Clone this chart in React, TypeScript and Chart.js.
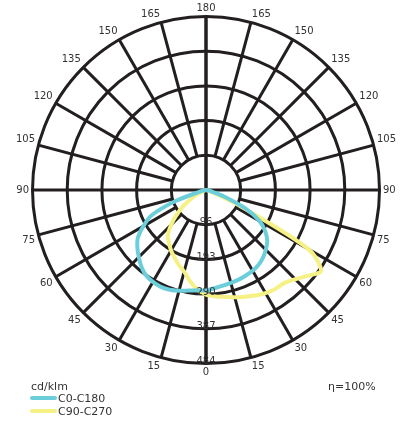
import React, { useEffect, useRef } from "react";
import { Chart, registerables } from "chart.js";

Chart.register(...registerables);

// gamma angles (degrees from nadir)
const angles = [0, 5, 10, 15, 20, 25, 30, 35, 40, 45, 50, 55, 60, 65, 70, 75, 80, 85, 90];
// C0-C180 plane (cd/klm)
const c0 = [280, 275, 271, 268, 266, 263, 260, 255, 247, 236, 223, 202, 172, 120, 55, 15, 4, 1, 0];
const c180 = [280, 281, 285, 291, 296, 298, 296, 291, 280, 265, 250, 232, 202, 168, 92, 18, 5, 1, 0];
// C90-C270 plane (cd/klm)
const c90 = [292, 298, 303, 310, 317, 325, 332, 337, 339, 352, 372, 392, 330, 100, 22, 6, 2, 0, 0];
const c270 = [292, 278, 258, 236, 222, 208, 195, 180, 166, 138, 106, 75, 45, 22, 10, 4, 1, 0, 0];

const ringValues = [96.8, 193.6, 290.4, 387.2, 484];
const ringLabels = ["96", "193", "290", "387", "484"];
const angleLabels = [0, 15, 30, 45, 60, 75, 90, 105, 120, 135, 150, 165, 180];
const maxValue = 484;

const seriesNames = ["C0-C180", "C90-C270"];
const seriesColors = ["#6ccedb", "#f6f185"];
const unitLabel = "cd/klm";
const efficiencyLabel = "η=100%";

const GRID = "#231f20";
const TEXT = "#333333";
const FONT = "DejaVu Sans, Verdana, sans-serif";

function toPoints(left: number[], right: number[]) {
  const pts: { x: number; y: number }[] = [];
  for (let i = angles.length - 1; i >= 0; i--) {
    const t = (angles[i] * Math.PI) / 180;
    pts.push({ x: -left[i] * Math.sin(t), y: -left[i] * Math.cos(t) });
  }
  for (let i = 1; i < angles.length; i++) {
    const t = (angles[i] * Math.PI) / 180;
    pts.push({ x: right[i] * Math.sin(t), y: -right[i] * Math.cos(t) });
  }
  return pts;
}

const polarPlugin = {
  id: "polarGrid",
  beforeDatasetsDraw(chart: any) {
    const { ctx, scales } = chart;
    const xs = scales.x;
    const ys = scales.y;
    const cx = xs.getPixelForValue(0);
    const cy = ys.getPixelForValue(0);
    const rad = (v: number) => xs.getPixelForValue(v) - cx;
    const R = rad(maxValue);
    ctx.save();
    ctx.strokeStyle = GRID;
    ctx.lineWidth = 3;
    ringValues.forEach((v) => {
      ctx.beginPath();
      ctx.arc(cx, cy, rad(v), 0, Math.PI * 2);
      ctx.stroke();
    });
    angleLabels.forEach((a) => {
      const t = (a * Math.PI) / 180;
      const inner = a % 90 === 0 ? 0 : rad(ringValues[0]);
      [-1, 1].forEach((side) => {
        const dx = side * Math.sin(t);
        const dy = Math.cos(t);
        ctx.beginPath();
        ctx.moveTo(cx + dx * inner, cy + dy * inner);
        ctx.lineTo(cx + dx * R, cy + dy * R);
        ctx.stroke();
      });
    });
    // angle labels
    ctx.fillStyle = TEXT;
    ctx.font = `10px ${FONT}`;
    const lr = R + 3.5;
    angleLabels.forEach((a) => {
      const t = (a * Math.PI) / 180;
      const sides = a === 0 || a === 180 ? [1] : [-1, 1];
      sides.forEach((side) => {
        const x = cx + side * Math.sin(t) * lr;
        const y = cy + Math.cos(t) * lr;
        ctx.textAlign = a === 0 || a === 180 ? "center" : side < 0 ? "right" : "left";
        ctx.textBaseline = a === 90 ? "middle" : a < 90 ? "top" : "bottom";
        ctx.fillText(String(a), x, y);
      });
    });
    ctx.restore();
  },
  afterDatasetsDraw(chart: any) {
    const { ctx, scales } = chart;
    const xs = scales.x;
    const ys = scales.y;
    const cx = xs.getPixelForValue(0);
    ctx.save();
    ctx.fillStyle = TEXT;
    ctx.font = `10px ${FONT}`;
    ctx.textAlign = "center";
    ctx.textBaseline = "alphabetic";
    ringValues.forEach((v, i) => {
      const y = ys.getPixelForValue(-v);
      ctx.fillText(ringLabels[i], cx, y + 0.5);
    });
    ctx.restore();
  },
};

export default function App() {
  const ref = useRef<HTMLCanvasElement | null>(null);
  useEffect(() => {
    if (!ref.current) return;
    const chart = new Chart(ref.current, {
      type: "scatter",
      data: {
        datasets: [
          {
            label: seriesNames[0],
            data: toPoints(c180, c0),
            showLine: true,
            borderColor: seriesColors[0],
            borderWidth: 4,
            pointRadius: 0,
            tension: 0.3,
            fill: false,
            borderJoinStyle: "round",
            borderCapStyle: "round",
          },
          {
            label: seriesNames[1],
            data: toPoints(c270, c90),
            showLine: true,
            borderColor: seriesColors[1],
            borderWidth: 4,
            pointRadius: 0,
            tension: 0.3,
            fill: false,
            borderJoinStyle: "round",
            borderCapStyle: "round",
          },
        ],
      },
      options: {
        responsive: false,
        animation: false,
        layout: { padding: { left: 32.5, right: 30.5, top: 16.5, bottom: 59.5 } },
        plugins: { legend: { display: false }, tooltip: { enabled: false } },
        scales: {
          x: { type: "linear", min: -maxValue, max: maxValue, display: false },
          y: { type: "linear", min: -maxValue, max: maxValue, display: false },
        },
      },
      plugins: [polarPlugin],
    } as any);
    return () => chart.destroy();
  }, []);

  const txt: React.CSSProperties = {
    position: "absolute",
    fontFamily: FONT,
    fontSize: "11px",
    lineHeight: "12px",
    color: TEXT,
    whiteSpace: "nowrap",
  };
  const swatch = (color: string, top: number): React.CSSProperties => ({
    position: "absolute",
    left: 30,
    top,
    width: 27,
    height: 4,
    borderRadius: 2,
    background: color,
  });

  return (
    <div style={{ position: "absolute", left: 0, top: 0, width: 410, height: 423, overflow: "hidden" }}>
      <canvas ref={ref} width={410} height={423} style={{ display: "block" }} />
      <div style={{ ...txt, left: 31, top: 380.5 }}>{unitLabel}</div>
      <div style={{ ...txt, left: 328, top: 380.5 }}>{efficiencyLabel}</div>
      <div style={swatch(seriesColors[0], 395.7)} />
      <div style={{ ...txt, left: 58, top: 393 }}>{seriesNames[0]}</div>
      <div style={swatch(seriesColors[1], 408.5)} />
      <div style={{ ...txt, left: 58, top: 405.5 }}>{seriesNames[1]}</div>
    </div>
  );
}
